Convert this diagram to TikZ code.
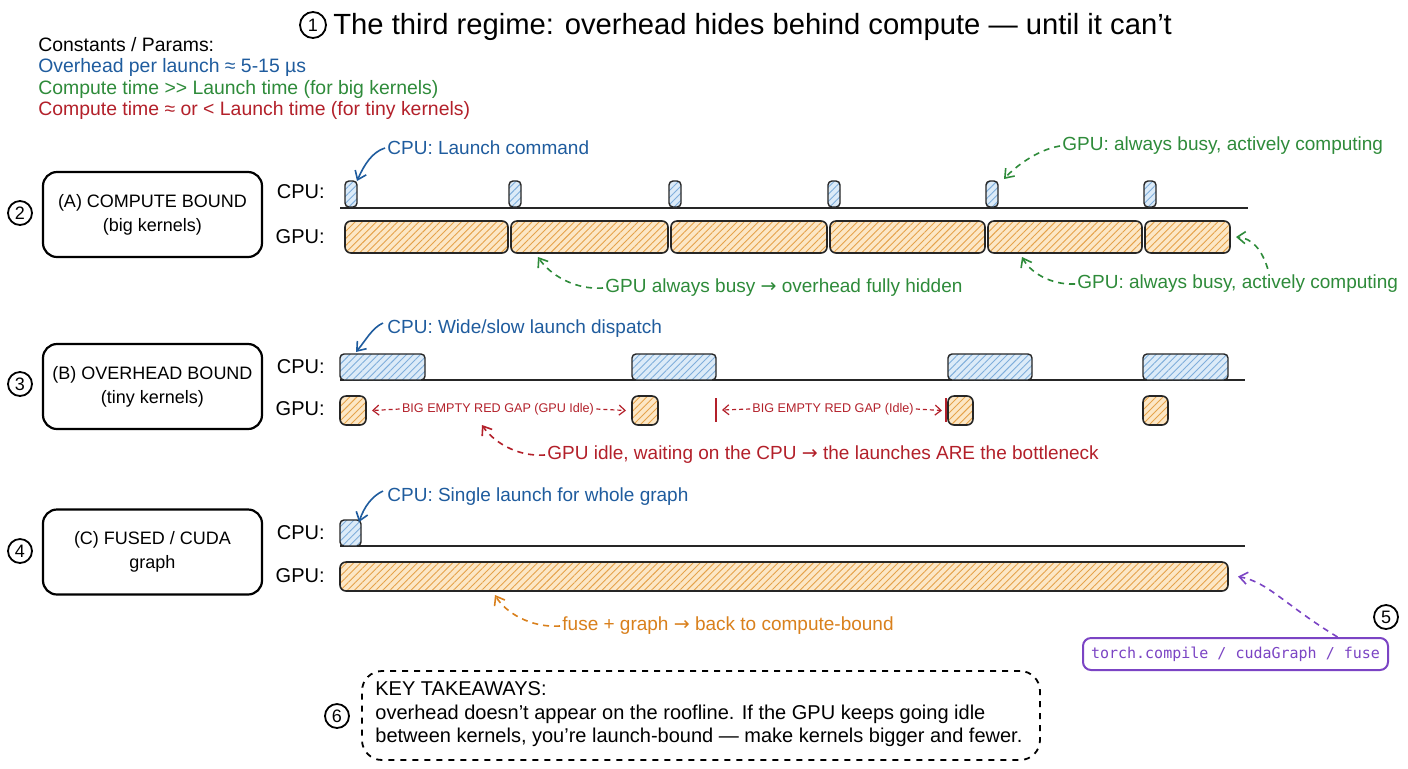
\documentclass[tikz,border=0pt]{standalone}
\usepackage{fontspec}
\setmainfont{Liberation Sans}
\setmonofont{DejaVu Sans Mono}
\newfontfamily\symf{DejaVu Sans}
\newcommand{\rarr}{{\symf →}}
\usetikzlibrary{arrows.meta,patterns.meta,calc}
\definecolor{tblue}{HTML}{1F5C9E}
\definecolor{tgreen}{HTML}{2E8B3A}
\definecolor{tred}{HTML}{B3202A}
\definecolor{torange}{HTML}{D9801C}
\definecolor{tpurple}{HTML}{7B44C4}
\definecolor{cpufill}{HTML}{DCEBF8}
\definecolor{cpuhatch}{HTML}{7FAEDB}
\definecolor{gpufill}{HTML}{FCE7C6}
\definecolor{gpuhatch}{HTML}{E5A24A}
\newcommand{\blk}[6]{\node[#2, minimum width={(#5-#3)*0.5pt}, minimum height={(#6-#4)*0.5pt}] (#1) at ({(#3+#5)/2},{(#4+#6)/2}) {};}
\begin{document}
\begin{tikzpicture}[x=0.5pt,y=-0.5pt,
  lab/.style={font=\fontsize{10}{12}\selectfont, inner sep=1pt},
  ann/.style={font=\fontsize{9.5}{11}\selectfont, inner sep=1pt, anchor=west},
  cst/.style={font=\fontsize{9.7}{11}\selectfont, inner sep=1pt, anchor=west},
  num/.style={circle, draw, line width=0.9pt, minimum size=12pt, inner sep=0pt, font=\fontsize{9}{9}\selectfont},
  regime/.style={draw, line width=1.1pt, rounded corners=7pt, minimum width=109.5pt, minimum height=42.5pt, align=center, font=\fontsize{9}{12}\selectfont},
  cpub/.style={draw=black!85, line width=0.7pt, rounded corners=2pt, inner sep=0pt, outer sep=0pt, preaction={fill=cpufill}, pattern={Lines[angle=45,distance=2.5pt,line width=0.45pt]}, pattern color=cpuhatch},
  gpub/.style={draw=black!85, line width=0.8pt, rounded corners=3pt, inner sep=0pt, outer sep=0pt, preaction={fill=gpufill}, pattern={Lines[angle=45,distance=2.5pt,line width=0.45pt]}, pattern color=gpuhatch},
  axis/.style={line width=0.9pt, black!85},
  solidarr/.style={-{Straight Barb[length=4pt,width=6pt]}, line width=0.8pt},
  dasharr/.style={solidarr, dash pattern=on 3pt off 2.5pt},
  gaparr/.style={-{Straight Barb[length=3pt,width=5pt]}, line width=0.6pt, tred, dash pattern=on 2pt off 1.5pt}
]
\useasboundingbox (0,0) rectangle (1408,768);
\fill[white] (0,0) rectangle (1408,768);

% title
\node[num, minimum size=13pt] (n1) at (313,25) {1};
\node[anchor=west, font=\fontsize{14.6}{16}\selectfont, inner sep=0pt] (title) at (333,27) {The third regime: overhead hides behind compute — until it can’t};

% constants
\node[cst] (c0) at (36,45) {Constants / Params:};
\node[cst, text=tblue] (c1) at (36,67) {Overhead per launch ≈ 5-15 µs};
\node[cst, text=tgreen] (c2) at (36,89) {Compute time >{}> Launch time (for big kernels)};
\node[cst, text=tred] (c3) at (36,110) {Compute time ≈ or < Launch time (for tiny kernels)};

% ===== Section A =====
\node[num] (n2) at (20,213) {2};
\node[regime] (rA) at (152.5,214.5) {(A) COMPUTE BOUND\\(big kernels)};
\node[lab, anchor=east] (cpuA) at (327,192) {CPU:};
\node[lab, anchor=east] (gpuA) at (327,237) {GPU:};
\coordinate (axA0) at (340,208); \coordinate (axA1) at (1248,208);
\draw[axis] (axA0) -- (axA1);
\blk{tA1}{cpub}{345}{181}{357}{207}
\blk{tA2}{cpub}{509}{181}{521}{207}
\blk{tA3}{cpub}{669}{181}{681}{207}
\blk{tA4}{cpub}{828}{181}{840}{207}
\blk{tA5}{cpub}{986}{181}{998}{207}
\blk{tA6}{cpub}{1144}{181}{1156}{207}
\blk{gA1}{gpub}{345}{221}{508}{253}
\blk{gA2}{gpub}{511}{221}{668}{253}
\blk{gA3}{gpub}{671}{221}{827}{253}
\blk{gA4}{gpub}{830}{221}{985}{253}
\blk{gA5}{gpub}{988}{221}{1142}{253}
\blk{gA6}{gpub}{1145}{221}{1230}{253}
\node[ann, text=tblue] (aA1) at (385,148) {CPU: Launch command};
\draw[solidarr, tblue] (aA1.west) .. controls (372,152) and (364,165) .. (tA1.north east);
\node[ann, text=tgreen] (aA2) at (1060,146) {GPU: always busy, actively computing};
\draw[dasharr, tgreen] (aA2.west) .. controls (1035,150) and (1012,170) .. ([shift={(6,-2)}]tA5.north east);
\node[ann, text=tgreen] (aA3) at (603,288) {GPU always busy \rarr\ overhead fully hidden};
\draw[dasharr, tgreen] (aA3.west) .. controls (575,290) and (550,275) .. ([shift={(27,4)}]gA2.south west);
\node[ann, text=tgreen] (aA4) at (1075,284) {GPU: always busy, actively computing};
\draw[dasharr, tgreen] (aA4.west) .. controls (1050,285) and (1030,272) .. ([shift={(34,4)}]gA5.south west);
\draw[dasharr, tgreen] ($(aA4.north)+(30,-4)$) .. controls (1262,250) and (1252,238) .. ([xshift=3]gA6.east);

% ===== Section B =====
\node[num] (n3) at (20,384) {3};
\node[regime] (rB) at (152.5,386.5) {(B) OVERHEAD BOUND\\(tiny kernels)};
\node[lab, anchor=east] (cpuB) at (327,367) {CPU:};
\node[lab, anchor=east] (gpuB) at (327,409) {GPU:};
\coordinate (axB0) at (340,380); \coordinate (axB1) at (1245,380);
\draw[axis] (axB0) -- (axB1);
\blk{cB1}{cpub}{340}{354}{425}{380}
\blk{cB2}{cpub}{632}{354}{716}{380}
\blk{cB3}{cpub}{948}{354}{1032}{380}
\blk{cB4}{cpub}{1143}{354}{1228}{380}
\blk{gB1}{gpub}{340}{396}{366}{425}
\blk{gB2}{gpub}{632}{396}{658}{425}
\blk{gB3}{gpub}{948}{396}{973}{425}
\blk{gB4}{gpub}{1143}{396}{1168}{425}
\node[font=\fontsize{6.3}{7}\selectfont, text=tred, inner sep=1pt] (gap1) at (498,409) {BIG EMPTY RED GAP (GPU Idle)};
\draw[gaparr] (gap1.west) -- ([xshift=3]gB1.east);
\draw[gaparr] (gap1.east) -- ([xshift=-3]gB2.west);
\coordinate (m1a) at (716,398); \coordinate (m1b) at (716,422);
\draw[tred, line width=0.6pt] (m1a) -- (m1b);
\coordinate (m2a) at (946,398); \coordinate (m2b) at (946,422);
\draw[tred, line width=0.6pt] (m2a) -- (m2b);
\node[font=\fontsize{6.3}{7}\selectfont, text=tred, inner sep=1pt] (gap2) at (833,409) {BIG EMPTY RED GAP (Idle)};
\draw[gaparr] (gap2.west) -- ([xshift=3]$(m1a)!0.5!(m1b)$);
\draw[gaparr] (gap2.east) -- ([xshift=-3]gB3.west);
\node[ann, text=tblue] (aB1) at (385,329) {CPU: Wide/slow launch dispatch};
\draw[solidarr, tblue] ([shift={(-2,-6)}]aB1.west) .. controls (372,328) and (366,340) .. ([shift={(16,-2)}]cB1.north west);
\node[ann, text=tred] (aB2) at (545,455) {GPU idle, waiting on the CPU \rarr\ the launches ARE the bottleneck};
\draw[dasharr, tred] (aB2.west) .. controls (515,457) and (492,440) .. (482,425);

% ===== Section C =====
\node[num] (n4) at (20,551) {4};
\node[regime] (rC) at (152.5,552) {(C) FUSED / CUDA\\graph};
\node[lab, anchor=east] (cpuC) at (327,533) {CPU:};
\node[lab, anchor=east] (gpuC) at (327,576) {GPU:};
\coordinate (axC0) at (340,546); \coordinate (axC1) at (1245,546);
\draw[axis] (axC0) -- (axC1);
\blk{cC1}{cpub}{340}{520}{361}{546}
\blk{gC1}{gpub}{340}{562}{1228}{591}
\node[ann, text=tblue] (aC1) at (385,497) {CPU: Single launch for whole graph};
\draw[solidarr, tblue] ([shift={(-2,-6)}]aC1.west) .. controls (372,496) and (364,507) .. ([shift={(-2,2)}]cC1.north east);
\node[ann, text=torange] (aC2) at (560,626) {fuse + graph \rarr\ back to compute-bound};
\draw[dasharr, torange] (aC2.west) .. controls (530,628) and (505,612) .. ([shift={(155,4)}]gC1.south west);

% torch.compile
\node[num] (n5) at (1386,617) {5};
\node[draw=tpurple, line width=1pt, rounded corners=4pt, minimum width=152.5pt, minimum height=16pt, inner sep=2pt, text=tpurple, font=\ttfamily\fontsize{7.5}{9}\selectfont] (tc) at (1235.5,654) {torch.compile / cudaGraph / fuse};
\draw[dasharr, tpurple] ([xshift=51]tc.north) .. controls (1285,605) and (1268,582) .. ([xshift=5]gC1.east);

% takeaways
\node[num] (n6) at (337,716) {6};
\node[draw, dashed, line width=0.9pt, rounded corners=10pt, minimum width=339pt, minimum height=44.5pt, inner sep=0pt] (take) at (701,715.5) {};
\node[anchor=west, align=left, inner sep=0pt, font=\fontsize{10}{11.75}\selectfont] (taketxt) at (375,714.5) {KEY TAKEAWAYS:\\overhead doesn’t appear on the roofline. If the GPU keeps going idle\\between kernels, you’re launch-bound — make kernels bigger and fewer.};
\end{tikzpicture}
\end{document}
